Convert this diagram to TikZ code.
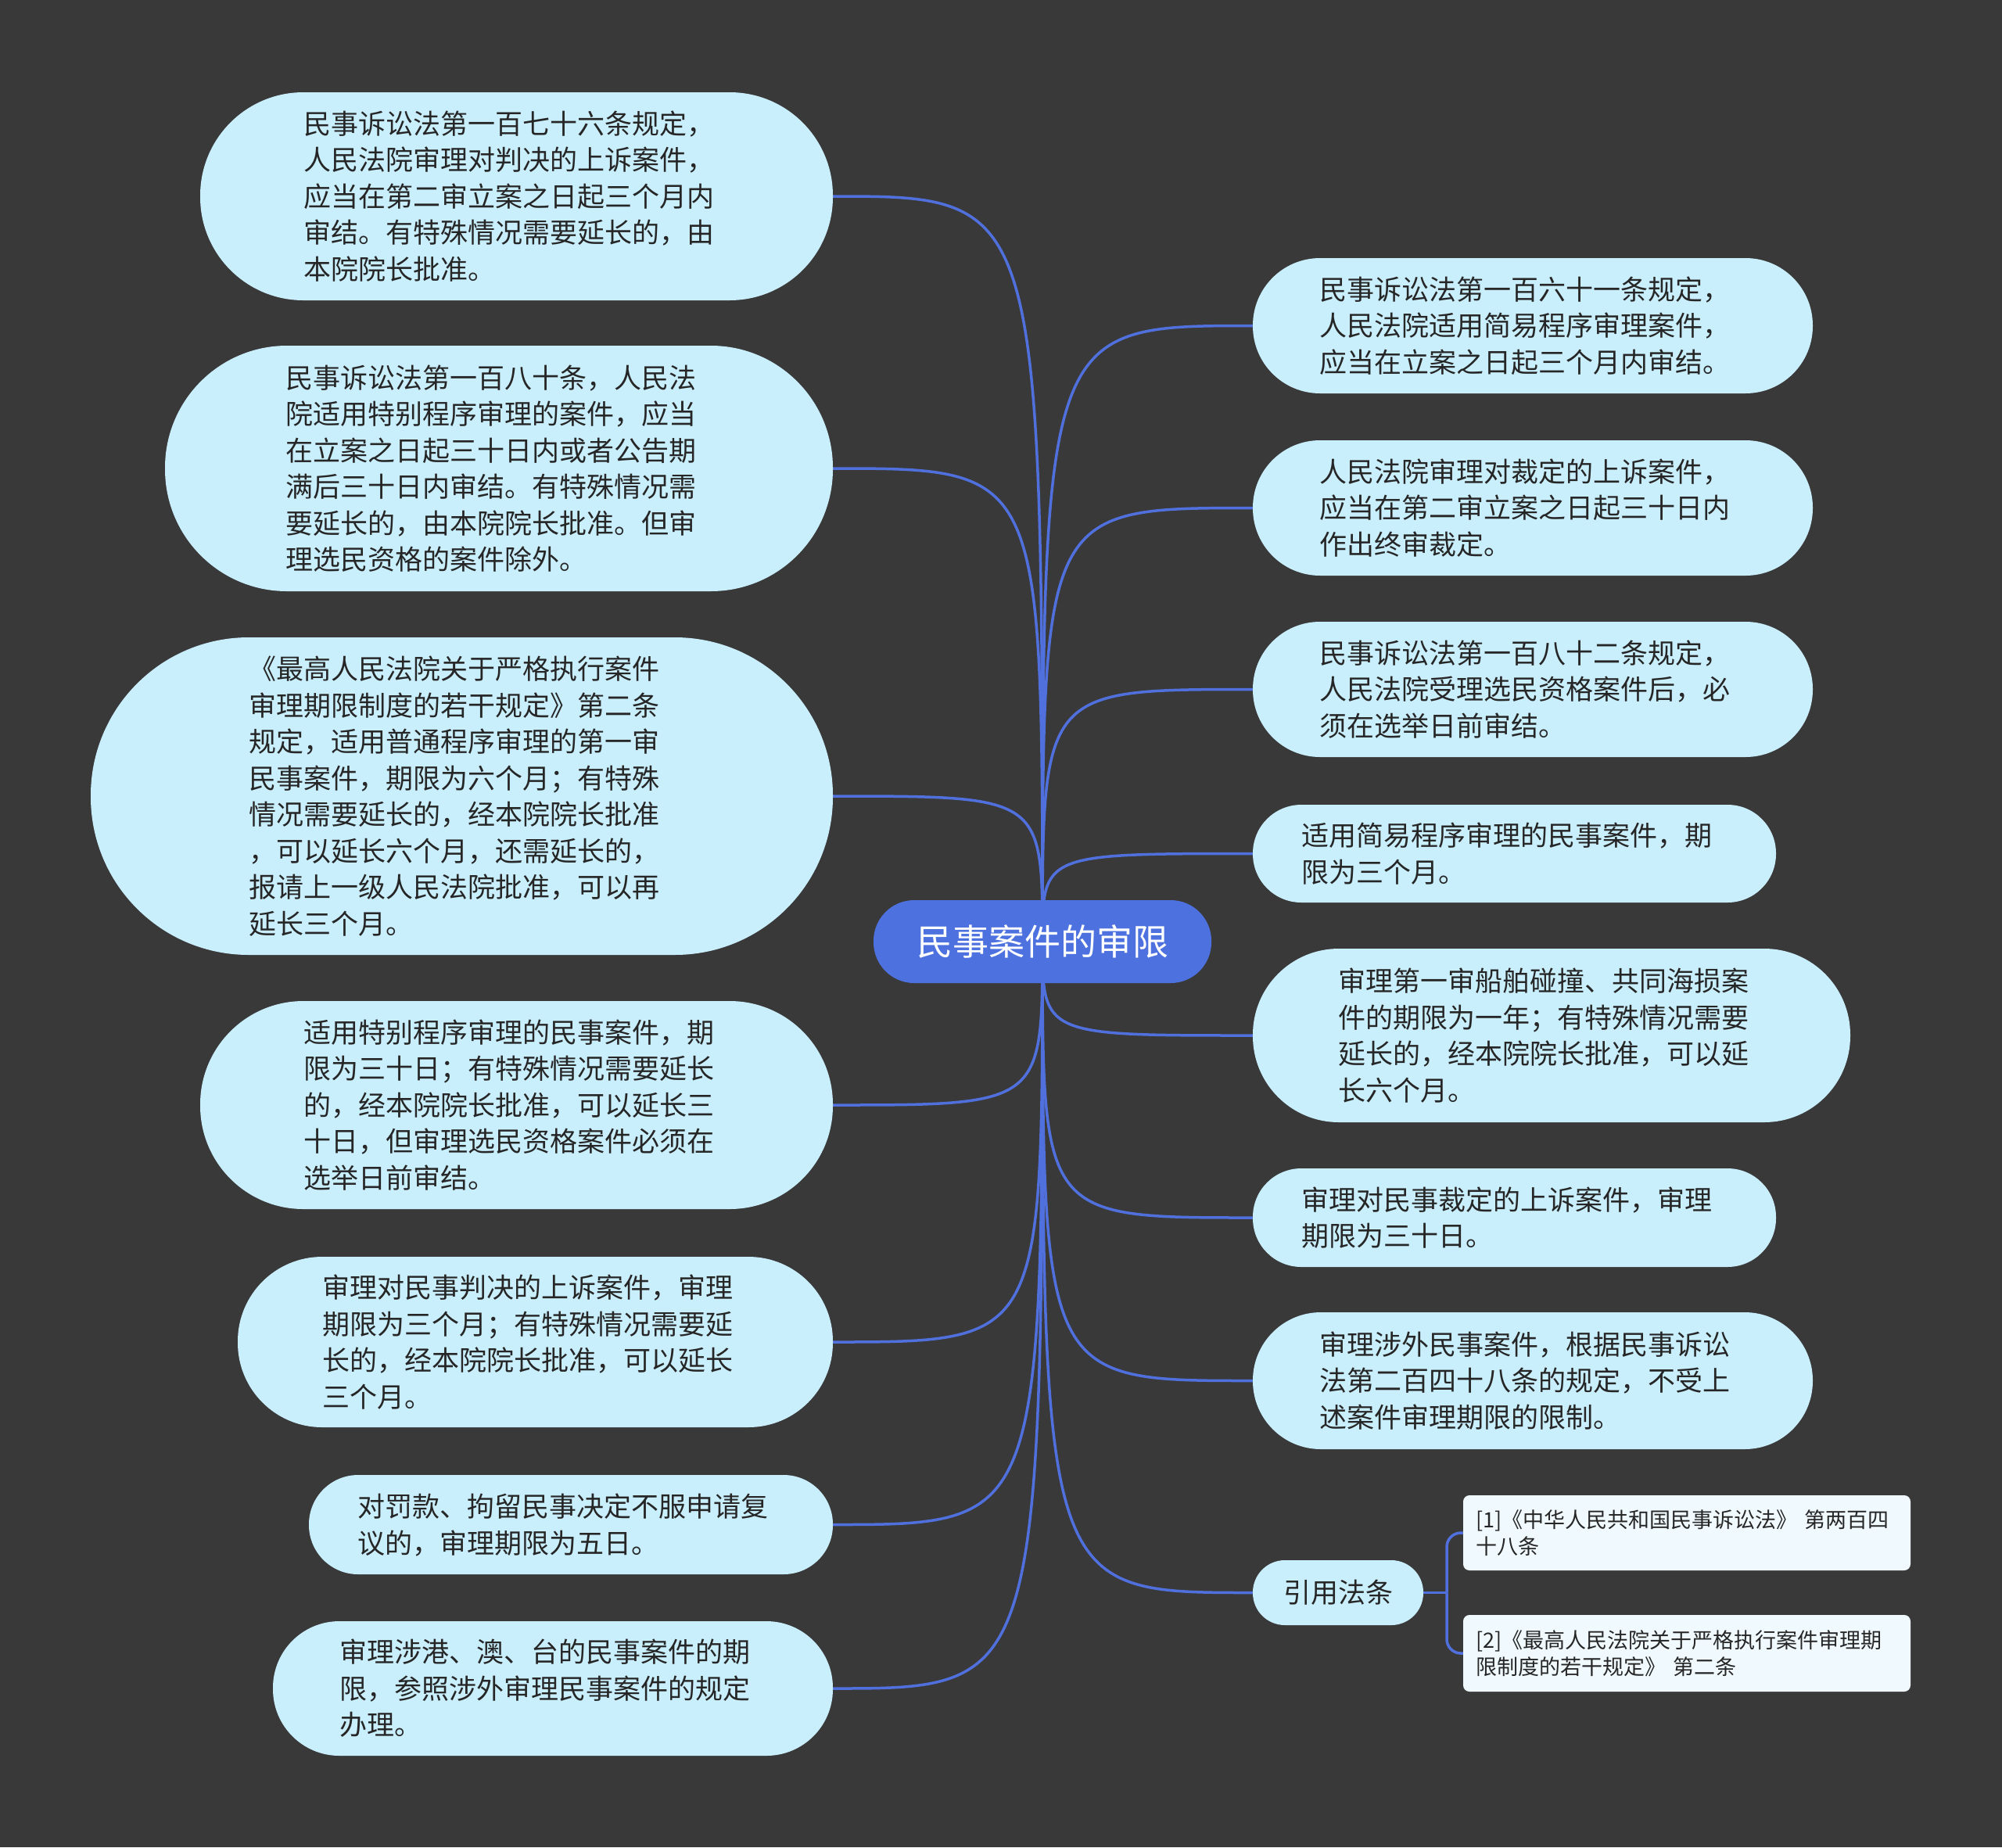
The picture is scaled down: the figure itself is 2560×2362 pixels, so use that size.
\documentclass[tikz,border=0pt]{standalone}
\usepackage{fontspec}
\newfontfamily\cjk{Noto Sans CJK SC}
\definecolor{bgc}{RGB}{58,57,58}
\definecolor{nodec}{RGB}{201,238,252}
\definecolor{mainc}{RGB}{77,114,224}
\definecolor{linec}{RGB}{80,112,222}
\definecolor{txt}{RGB}{38,38,38}
\definecolor{refc}{RGB}{240,250,254}
\pgfdeclarelayer{bglayer}
\pgfdeclarelayer{linelayer}
\pgfsetlayers{bglayer,linelayer,main}
\newcommand\mytb[1]{\raisebox{-4pt}[\height][\depth]{\begin{tabular}{@{}l@{\hspace{20pt}}}#1\end{tabular}}}
\begin{document}
\begin{tikzpicture}[x=1pt,y=-1pt,
  topic/.style={fill=nodec, text=txt, align=left, inner sep=0pt,
    font=\cjk\fontsize{35}{46.5}\selectfont},
  centre/.style={fill=mainc, text=white, inner sep=0pt,
    minimum width=432pt, minimum height=106pt, rounded corners=52pt,
    font=\cjk\fontsize{46}{56}\selectfont},
  refbox/.style={fill=refc, text=txt, align=left, inner sep=0pt,
    rounded corners=8pt, minimum width=572pt, text width=540pt,
    font=\cjk\fontsize{27}{34}\selectfont},
  conn/.style={draw=linec, line width=3.5pt}]

\begin{pgfonlayer}{bglayer}
  \fill[bgc] (0,0) rectangle (2560,2362);
\end{pgfonlayer}

\node[centre] (c) at (1333,1204) {民事案件的审限};

% left side
\node[topic, minimum width=809pt, minimum height=266pt, rounded corners=132pt] (L1) at (660.5,251)
  {\mytb{民事诉讼法第一百七十六条规定，\\人民法院审理对判决的上诉案件，\\应当在第二审立案之日起三个月内\\审结。有特殊情况需要延长的，由\\本院院长批准。}};
\node[topic, minimum width=854pt, minimum height=314pt, rounded corners=156pt] (L2) at (638,599)
  {\mytb{民事诉讼法第一百八十条，人民法\\院适用特别程序审理的案件，应当\\在立案之日起三十日内或者公告期\\满后三十日内审结。有特殊情况需\\要延长的，由本院院长批准。但审\\理选民资格的案件除外。}};
\node[topic, minimum width=949pt, minimum height=406pt, rounded corners=202pt] (L3) at (590.5,1018)
  {\mytb{《最高人民法院关于严格执行案件\\审理期限制度的若干规定》第二条\\规定，适用普通程序审理的第一审\\民事案件，期限为六个月；有特殊\\情况需要延长的，经本院院长批准\\，可以延长六个月，还需延长的，\\报请上一级人民法院批准，可以再\\延长三个月。}};
\node[topic, minimum width=809pt, minimum height=266pt, rounded corners=132pt] (L4) at (660.5,1413)
  {\mytb{适用特别程序审理的民事案件，期\\限为三十日；有特殊情况需要延长\\的，经本院院长批准，可以延长三\\十日，但审理选民资格案件必须在\\选举日前审结。}};
\node[topic, minimum width=761pt, minimum height=218pt, rounded corners=108pt] (L5) at (684.5,1716)
  {\mytb{审理对民事判决的上诉案件，审理\\期限为三个月；有特殊情况需要延\\长的，经本院院长批准，可以延长\\三个月。}};
\node[topic, minimum width=670pt, minimum height=127pt, rounded corners=63pt] (L6) at (730,1949.5)
  {\mytb{对罚款、拘留民事决定不服申请复\\议的，审理期限为五日。}};
\node[topic, minimum width=716pt, minimum height=172pt, rounded corners=85pt] (L7) at (707,2159)
  {\mytb{审理涉港、澳、台的民事案件的期\\限，参照涉外审理民事案件的规定\\办理。}};

% right side
\node[topic, minimum width=716pt, minimum height=173pt, rounded corners=86pt] (R1) at (1960,416.5)
  {\mytb{民事诉讼法第一百六十一条规定，\\人民法院适用简易程序审理案件，\\应当在立案之日起三个月内审结。}};
\node[topic, minimum width=716pt, minimum height=173pt, rounded corners=86pt] (R2) at (1960,649.5)
  {\mytb{人民法院审理对裁定的上诉案件，\\应当在第二审立案之日起三十日内\\作出终审裁定。}};
\node[topic, minimum width=716pt, minimum height=173pt, rounded corners=86pt] (R3) at (1960,881.5)
  {\mytb{民事诉讼法第一百八十二条规定，\\人民法院受理选民资格案件后，必\\须在选举日前审结。}};
\node[topic, minimum width=669pt, minimum height=125pt, rounded corners=62pt] (R4) at (1936.5,1091.5)
  {\mytb{适用简易程序审理的民事案件，期\\限为三个月。}};
\node[topic, minimum width=764pt, minimum height=222pt, rounded corners=110pt] (R5) at (1984,1324)
  {\mytb{审理第一审船舶碰撞、共同海损案\\件的期限为一年；有特殊情况需要\\延长的，经本院院长批准，可以延\\长六个月。}};
\node[topic, minimum width=669pt, minimum height=126pt, rounded corners=62pt] (R6) at (1936.5,1557)
  {\mytb{审理对民事裁定的上诉案件，审理\\期限为三十日。}};
\node[topic, minimum width=716pt, minimum height=175pt, rounded corners=87pt] (R7) at (1960,1765.5)
  {\mytb{审理涉外民事案件，根据民事诉讼\\法第二百四十八条的规定，不受上\\述案件审理期限的限制。}};
\node[topic, minimum width=218pt, minimum height=83pt, rounded corners=41pt] (R8) at (1711,2036.5)
  {引用法条};

% references
\node[refbox, minimum height=96pt] (F1) at (2157,1960)
  {[1]《中华人民共和国民事诉讼法》 第两百四\\十八条};
\node[refbox, minimum height=98pt] (F2) at (2157,2114)
  {[2]《最高人民法院关于严格执行案件审理期\\限制度的若干规定》 第二条};

\coordinate (j) at (1850,2036.5);

\begin{pgfonlayer}{linelayer}
  \foreach \n/\s in {L1/east,L2/east,L3/east,L4/east,L5/east,L6/east,L7/east,
                     R1/west,R2/west,R3/west,R4/west,R5/west,R6/west,R7/west,R8/west}{
    \draw[conn] (c.center) .. controls (c.center |- \n.\s) .. (\n.\s);
  }
  \draw[conn] (R8.east) -- (j);
  \draw[conn, rounded corners=18pt] (j) |- (F1.west);
  \draw[conn, rounded corners=18pt] (j) |- (F2.west);
\end{pgfonlayer}
\end{tikzpicture}
\end{document}
